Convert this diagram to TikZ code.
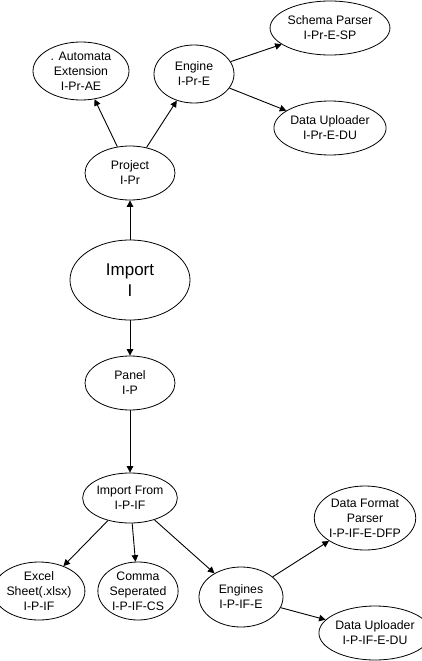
\documentclass[tikz,border=0pt]{standalone}
\usepackage{fontspec}
\setmainfont{Liberation Sans}
\usetikzlibrary{shapes.geometric}
\usetikzlibrary{arrows.meta}

\tikzset{
    blob/.style={draw,ellipse,inner sep=0pt,align=center,font=\fontsize{12.3}{15}\selectfont},
    link/.style={-{Triangle[length=6.5pt,width=6.5pt]},line width=0.9pt}
}

\begin{document}
\begin{tikzpicture}[x=1pt,y=-1pt,line width=0.8pt]
        \useasboundingbox (0,0) rectangle (421,661);
        % top part
        \node[blob,minimum width=96,minimum height=58] (ae) at (81,71) {. Automata\\Extension\\I-Pr-AE};
        \node[blob,minimum width=80,minimum height=58] (eng) at (194,74) {Engine\\I-Pr-E};
        \node[blob,minimum width=90,minimum height=54] (sp) at (330,28) {Schema Parser\\I-Pr-E-SP};
        \node[blob,minimum width=90,minimum height=54] (du) at (330,128) {Data Uploader\\I-Pr-E-DU};
        \node[blob,minimum width=90,minimum height=54] (proj) at (130,173) {Project\\I-Pr};
        % middle
        \node[blob,minimum width=120,minimum height=80,font=\fontsize{17}{21}\selectfont] (imp) at (130,280) {Import\\I};
        \node[blob,minimum width=90,minimum height=54] (panel) at (130,383) {Panel\\I-P};
        \node[blob,minimum width=86,minimum height=50] (from) at (130,498) {Import From\\I-P-IF};
        % bottom part
        \node[blob,minimum width=78,minimum height=58] (xls) at (39,591) {Excel\\Sheet(.xlsx)\\I-P-IF};
        \node[blob,minimum width=78,minimum height=58] (csv) at (138,591) {Comma\\Seperated\\I-P-IF-CS};
        \node[blob,minimum width=84,minimum height=60] (engs) at (241,597) {Engines\\I-P-IF-E};
        \node[blob,minimum width=90,minimum height=64] (dfp) at (365,518) {Data Format\\Parser\\I-P-IF-E-DFP};
        \node[blob,minimum width=90,minimum height=54] (du2) at (375,633) {Data Uploader\\I-P-IF-E-DU};

        \draw[link] (imp) -- (proj);
        \draw[link] (imp) -- (panel);
        \draw[link] (panel) -- (from);
        \draw[link] (proj) -- (ae);
        \draw[link] (proj) -- (eng);
        \draw[link] (eng) -- (sp);
        \draw[link] (eng) -- (du);
        \draw[link] (from) -- (xls);
        \draw[link] (from) -- (csv);
        \draw[link] (from) -- (engs);
        \draw[link] (engs) -- (dfp);
        \draw[link] (engs) -- (du2);
\end{tikzpicture}
\end{document}
